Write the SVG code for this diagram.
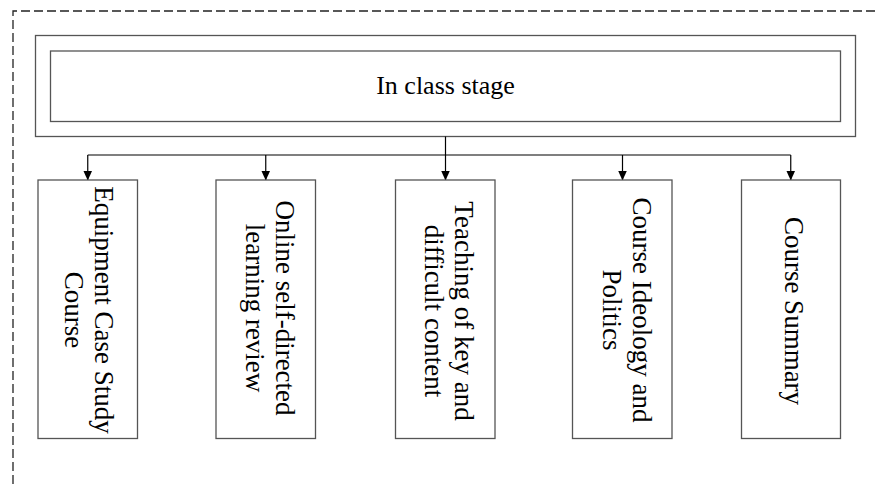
<svg xmlns="http://www.w3.org/2000/svg" width="877" height="484" viewBox="0 0 877 484">
<defs>
<style>
.frame{fill:none;stroke:#222;stroke-width:1.3;stroke-dasharray:9,4}
.box{fill:#fff;stroke:#555;stroke-width:1.3}
.conn{fill:none;stroke:#000;stroke-width:1.2}
.t{font-family:"Liberation Serif","Times New Roman",serif;font-size:26px;fill:#000;text-anchor:middle}
.v{font-size:27px}
</style>
<marker id="arr" markerWidth="10" markerHeight="10" refX="9.5" refY="5" orient="auto" markerUnits="userSpaceOnUse">
<path d="M0,0.5 L10,5 L0,9.5 Z" fill="#000"/>
</marker>
</defs>
<rect width="877" height="484" fill="#fff"/>
<path class="frame" d="M13,484 V11 H877"/>
<g id="in-class-stage">
<rect class="box" x="35.5" y="35.5" width="820" height="101"/>
<rect class="box" x="50.5" y="51" width="790" height="70.5"/>
<text class="t" x="445.5" y="94">In class stage</text>
</g>
<g id="connectors">
<path class="conn" d="M445.5,136.5 V155 M87.75,155 H790.75"/>
<path class="conn" d="M87.75,155 V180" marker-end="url(#arr)"/>
<path class="conn" d="M265.75,155 V180" marker-end="url(#arr)"/>
<path class="conn" d="M445.5,155 V180" marker-end="url(#arr)"/>
<path class="conn" d="M622.5,155 V180" marker-end="url(#arr)"/>
<path class="conn" d="M790.75,155 V180" marker-end="url(#arr)"/>
</g>
<g id="equipment-case-study">
<rect class="box" x="38" y="180" width="99.5" height="258.5"/>
<text class="t v" transform="translate(95,310) rotate(90)">Equipment Case Study</text>
<text class="t v" transform="translate(65,310) rotate(90)">Course</text>
</g>
<g id="online-review">
<rect class="box" x="216" y="180" width="99.5" height="258.5"/>
<text class="t v" transform="translate(276,308) rotate(90)">Online self-directed</text>
<text class="t v" transform="translate(246,308) rotate(90)">learning review</text>
</g>
<g id="key-difficult">
<rect class="box" x="395.5" y="180" width="99.5" height="258.5"/>
<text class="t v" transform="translate(455,311) rotate(90)">Teaching of key and</text>
<text class="t v" transform="translate(425,311) rotate(90)">difficult content</text>
</g>
<g id="ideology-politics">
<rect class="box" x="572.5" y="180" width="99.5" height="258.5"/>
<text class="t v" transform="translate(633,310) rotate(90)">Course Ideology and</text>
<text class="t v" transform="translate(603,310) rotate(90)">Politics</text>
</g>
<g id="course-summary">
<rect class="box" x="741.5" y="180" width="99" height="258.5"/>
<text class="t v" transform="translate(785,311) rotate(90)">Course Summary</text>
</g>
</svg>
